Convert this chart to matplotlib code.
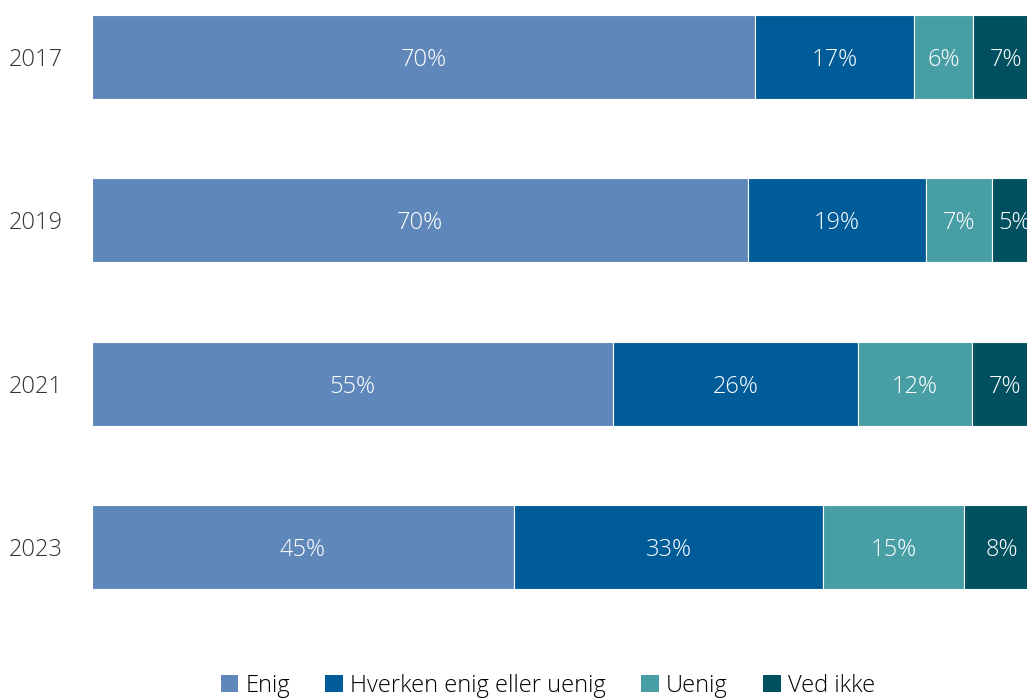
import matplotlib
matplotlib.use("Agg")
import matplotlib.pyplot as plt
from matplotlib.patches import Patch

plt.rcParams["font.family"] = ["Open Sans", "DejaVu Sans"]

years = ["2017", "2019", "2021", "2023"]
categories = ["Enig", "Hverken enig eller uenig", "Uenig", "Ved ikke"]
# bar widths and the rounded labels shown in the bars
enig = [70.5, 69.8, 55.4, 44.9]
hverken = [17.0, 18.9, 26.1, 32.9]
uenig = [6.2, 7.0, 12.1, 15.0]
ved_ikke = [7, 5, 7, 8]
enig_lbl = [70, 70, 55, 45]
hverken_lbl = [17, 19, 26, 33]
uenig_lbl = [6, 7, 12, 15]
ved_ikke_lbl = [7, 5, 7, 8]
series = [enig, hverken, uenig, ved_ikke]
labels = [enig_lbl, hverken_lbl, uenig_lbl, ved_ikke_lbl]
colors = ["#5F87BA", "#005B99", "#479EA4", "#00505F"]

fig = plt.figure(figsize=(10.27, 6.98), dpi=100)
ax = fig.add_axes([92 / 1027, 1 - 620 / 698, 1 - 92 / 1027, 620 / 698])

ypos = list(range(len(years)))
left = [0] * len(years)
for vals, lbls, col in zip(series, labels, colors):
    bars = ax.barh(ypos, vals, left=left, height=0.514, color=col,
                   edgecolor="white", linewidth=0.8)
    for b, v in zip(bars, lbls):
        ax.text(b.get_x() + b.get_width() / 2, b.get_y() + b.get_height() / 2,
                f"{v}%", ha="center", va="center_baseline", color="white",
                fontsize=17, fontweight="light")
    left = [l + v for l, v in zip(left, vals)]

ax.set_xlim(0, 99.47)
ax.set_ylim(3.448, -0.349)
ax.set_yticks(ypos)
ax.set_yticklabels(years, fontsize=17, fontweight="light", color="#333333")
ax.tick_params(axis="y", length=0, pad=21)
ax.set_xticks([])
for s in ax.spines.values():
    s.set_visible(False)

handles = [Patch(facecolor=c, edgecolor="none") for c in colors]
fig.legend(handles, categories, loc="center", bbox_to_anchor=(548 / 1027, 12 / 698),
           ncol=4, frameon=False, handlelength=0.75, handleheight=0.75,
           handletextpad=0.3, columnspacing=1.5,
           prop={"size": 17, "weight": "light"})

fig.savefig("out.png", dpi=100)
